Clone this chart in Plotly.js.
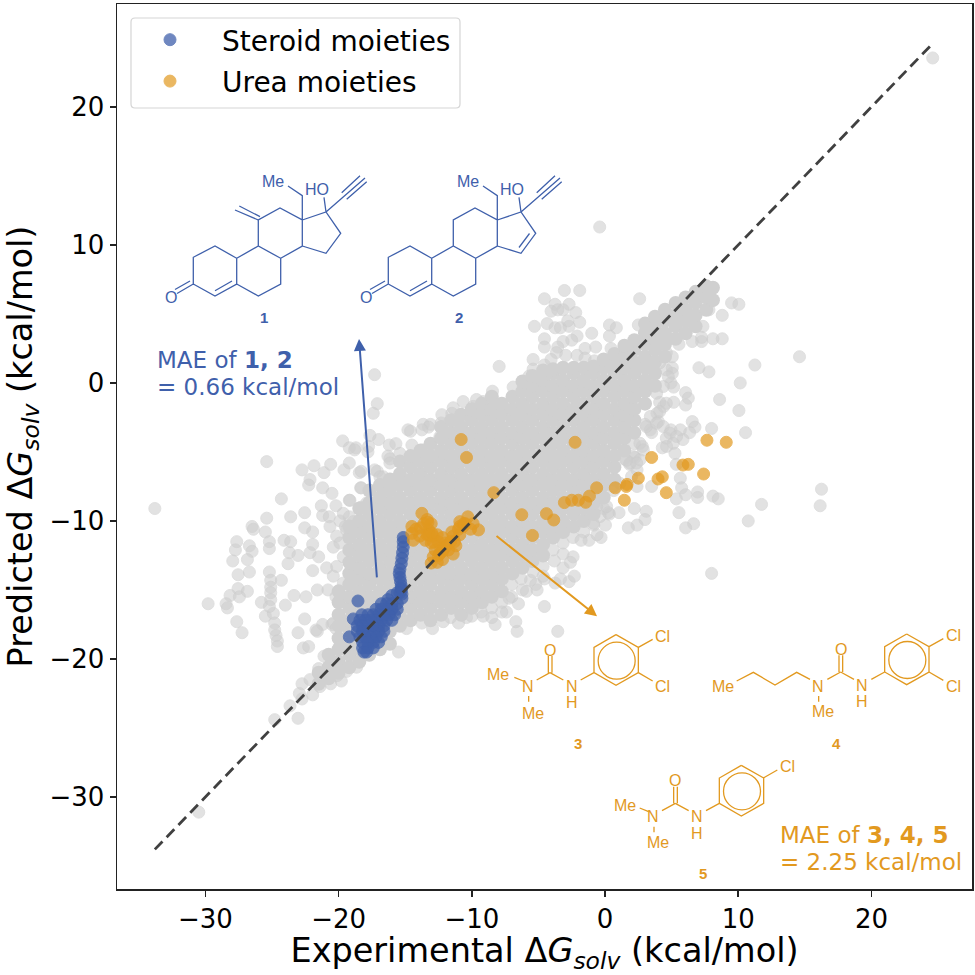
<!DOCTYPE html>
<html>
<head>
<meta charset="utf-8">
<script src="https://cdn.plot.ly/plotly-3.0.1.min.js"></script>
<style>html,body{margin:0;padding:0;background:#fff}</style>
</head>
<body>
<div id="chart" style="width:975px;height:975px"></div>
<script>
var xTicks = [-30, -20, -10, 0, 10, 20];
var yTicks = [-30, -20, -10, 0, 10, 20];
var identityLine = [-33.8, 24.6];

// dense body of the cloud, one column per entry: [x, y, y, y...]
var bodyLeft = [
  [-21.5,-21.8,-21.0],
  [-20.75,-21.4,-20.6,-19.7],
  [-20,-21.0,-20.2,-19.3,-18.5,-17.6,-16.8,-15.9,-15.1],
  [-19.2,-20.6,-19.7,-18.9,-18.0,-17.2,-16.3,-15.5,-14.6,-13.8,-13.0,-12.1,-11.2,-10.4],
  [-18.45,-20.2,-19.3,-18.5,-17.6,-16.8,-15.9,-15.1,-14.2,-13.4,-12.5,-11.7,-10.8,-10.0,-9.1],
  [-17.7,-19.7,-18.9,-18.0,-17.2,-16.3,-15.5,-14.6,-13.8,-12.9,-12.1,-11.2,-10.4,-9.5,-8.7,-7.8],
  [-16.9,-19.3,-18.5,-17.6,-16.8,-15.9,-15.1,-14.2,-13.4,-12.5,-11.7,-10.8,-10.0,-9.1,-8.3,-7.4],
  [-16.15,-18.9,-18.0,-17.2,-16.3,-15.5,-14.6,-13.8,-12.9,-12.1,-11.2,-10.4,-9.5,-8.7,-7.8,-7.0],
  [-15.4,-17.6,-16.8,-15.9,-15.1,-14.2,-13.4,-12.5,-11.7,-10.8,-10.0,-9.1,-8.3,-7.4,-6.6,-5.7],
  [-14.6,-17.2,-16.3,-15.5,-14.6,-13.8,-12.9,-12.1,-11.2,-10.4,-9.5,-8.7,-7.8,-7.0,-6.1,-5.3],
  [-13.85,-16.8,-15.9,-15.1,-14.2,-13.4,-12.5,-11.7,-10.8,-10.0,-9.1,-8.3,-7.4,-6.6,-5.7,-4.9],
  [-13.1,-17.2,-16.3,-15.5,-14.6,-13.8,-12.9,-12.1,-11.2,-10.4,-9.5,-8.7,-7.8,-7.0,-6.1,-5.3,-4.4]
];
var bodyMid = [
  [-12.3,-16.8,-15.9,-15.1,-14.2,-13.4,-12.5,-11.7,-10.8,-10.0,-9.1,-8.3,-7.4,-6.6,-5.7,-4.9,-4.0,-3.2],
  [-11.55,-16.3,-15.5,-14.6,-13.8,-12.9,-12.1,-11.2,-10.4,-9.5,-8.7,-7.8,-7.0,-6.1,-5.3,-4.4,-3.6,-2.7],
  [-10.8,-16.8,-15.9,-15.1,-14.2,-13.4,-12.5,-11.7,-10.8,-10.0,-9.1,-8.3,-7.4,-6.6,-5.7,-4.9,-4.0,-3.2,-2.3],
  [-10,-16.3,-15.5,-14.6,-13.8,-12.9,-12.1,-11.2,-10.4,-9.5,-8.7,-7.8,-7.0,-6.1,-5.3,-4.4,-3.6,-2.7,-1.9],
  [-9.25,-15.9,-15.1,-14.2,-13.4,-12.5,-11.7,-10.8,-10.0,-9.1,-8.3,-7.4,-6.6,-5.7,-4.9,-4.0,-3.2,-2.3,-1.5],
  [-8.5,-15.5,-14.6,-13.8,-12.9,-12.1,-11.2,-10.4,-9.5,-8.7,-7.8,-7.0,-6.1,-5.3,-4.4,-3.6,-2.7,-1.9,-1.0],
  [-7.75,-15.1,-14.2,-13.4,-12.5,-11.7,-10.8,-10.0,-9.1,-8.3,-7.4,-6.6,-5.7,-4.9,-4.0,-3.2,-2.3,-1.5],
  [-6.95,-13.8,-12.9,-12.1,-11.2,-10.4,-9.5,-8.7,-7.8,-7.0,-6.1,-5.3,-4.4,-3.6,-2.7,-1.9,-1.0],
  [-6.2,-13.4,-12.5,-11.7,-10.8,-10.0,-9.1,-8.3,-7.4,-6.6,-5.7,-4.9,-4.0,-3.2,-2.3,-1.5,-0.6,0.1],
  [-5.45,-12.9,-12.1,-11.2,-10.4,-9.5,-8.7,-7.8,-7.0,-6.1,-5.3,-4.4,-3.6,-2.7,-1.9,-1.0,-0.2,0.5],
  [-4.65,-12.5,-11.7,-10.8,-10.0,-9.1,-8.3,-7.4,-6.6,-5.7,-4.9,-4.0,-3.2,-2.3,-1.5,-0.6,0.2,0.9]
];
var bodyRight = [
  [-3.9,-11.2,-10.4,-9.5,-8.7,-7.8,-7.0,-6.1,-5.3,-4.4,-3.6,-2.7,-1.9,-1.0,-0.2,0.7,1.0],
  [-3.15,-10.8,-10.0,-9.1,-8.3,-7.4,-6.6,-5.7,-4.9,-4.0,-3.2,-2.3,-1.5,-0.6,0.2,1.1],
  [-2.35,-10.4,-9.5,-8.7,-7.8,-7.0,-6.1,-5.3,-4.4,-3.6,-2.7,-1.9,-1.0,-0.2,0.7,1.1],
  [-1.6,-10.0,-9.1,-8.3,-7.4,-6.6,-5.7,-4.9,-4.0,-3.2,-2.3,-1.5,-0.6,0.2,1.1],
  [-0.85,-9.5,-8.7,-7.8,-7.0,-6.1,-5.3,-4.4,-3.6,-2.7,-1.9,-1.0,-0.2,0.7,1.2],
  [-0.1,-8.3,-7.4,-6.6,-5.7,-4.9,-4.0,-3.2,-2.3,-1.5,-0.6,0.2,1.1,1.7],
  [0.7,-7.0,-6.1,-5.3,-4.4,-3.6,-2.7,-1.9,-1.0,-0.2,0.7,1.5,2.1],
  [1.45,-4.9,-4.0,-3.2,-2.3,-1.5,-0.6,0.2,1.1,1.9,2.7],
  [2.2,-3.6,-2.7,-1.9,-1.0,-0.2,0.7,1.5,2.4,3.1],
  [3,-1.5,-0.6,0.2,1.1,1.9,2.8,3.6,4.3],
  [3.75,-0.2,0.7,1.5,2.4,3.2,4.1,4.8],
  [4.5,1.9,2.8,3.6,4.5,5.3],
  [5.3,3.2,4.1,4.9,5.8],
  [6.05,3.6,4.5,5.3,6.2],
  [6.8,4.1,4.9,5.8,6.6],
  [7.6,5.3,6.2,7.0],
  [8.1,6.0,6.9]
];

// loose points around the body, [x, y]
var grayLeft = [[-17.3,0.6],[-17.1,-1.5],[-17.4,-2.2],[-14.8,-3.4],[-14.6,-3.5],[-19.7,-4.2],[-19.2,-4.7],[-18.7,-4.7],[-17,-4.1],[-17.75,-4.6],[-16.2,-4.5],[-15.7,-4.4],[-14.5,-4.5],[-25.4,-5.7],[-22.75,-6.3],[-21.85,-6],[-21.1,-6.5],[-20.6,-5.9],[-19.2,-5.8],[-19.6,-6.3],[-18.45,-6.5],[-17.1,-6.4],[-16.3,-5.3],[-15.4,-5.1],[-22.15,-7],[-22.25,-7.4],[-21.2,-7.6],[-20.5,-8],[-24.3,-8.4],[-33.8,-9.1],[-21.3,-8.9],[-20.2,-8.9],[-19.2,-8.5],[-18.35,-7.6],[-23.6,-9.7],[-22.55,-9.4],[-25.4,-9.8],[-26.5,-10.4],[-26.4,-10.6],[-25.5,-10.8],[-22.55,-10.5],[-21.95,-10.8],[-21.2,-9.6],[-20.7,-9.7],[-19.9,-10],[-19.2,-9.7],[-25.2,-11.5],[-27.65,-11.5],[-27.75,-12.1],[-26.7,-11.8],[-26.5,-12.2],[-24.1,-11.4],[-23.6,-11.5],[-21.95,-11.7],[-25.2,-12],[-23.7,-12.3],[-23.05,-12.5],[-22.15,-12.3],[-21.5,-12.6],[-27.95,-12.9],[-26.85,-12.8],[-23.8,-13.1],[-20.9,-13.4],[-21.95,-13.6],[-26.7,-13.7],[-27.55,-13.9],[-25.2,-13.7],[-25.1,-14.3],[-24.3,-14.3],[-27.55,-14.9],[-26.85,-15.1],[-28.15,-15.4],[-27.45,-15.5],[-29.8,-16],[-28.45,-16],[-28.35,-16.3],[-25.1,-14.8],[-25.1,-15.2],[-25.8,-15.9],[-24,-16.1],[-23.35,-15.4],[-22.45,-15.5],[-21.6,-15],[-20.8,-15],[-20.2,-15.5],[-27.65,-17.3],[-27.25,-18.1],[-25.5,-16.9],[-24.9,-16.7],[-24.8,-17.4],[-24.7,-18.3],[-22.55,-17.1],[-23.05,-18.1],[-21.2,-17.5],[-21.6,-18],[-20.4,-17.4],[-25.1,-15.7],[-25.2,-16.2],[-24.8,-17.9],[-24.6,-18.7],[-24.6,-19.1],[-22.65,-19.2],[-22.25,-19.1],[-21.7,-17.9],[-20.5,-17.5],[-20.2,-17.8]];
var grayFill = [[-11.5,-2.2],[-13.65,-3],[-13.1,-3],[-12.3,-2.9],[-10.8,-2.6],[-10.65,-1.35],[-9.9,-1.7],[-9.15,-1.35],[-17.65,-3.8],[-18.8,-4.85],[-17.8,-5],[-18.3,-6.4],[-18.3,-7.6],[-19.15,-8.5],[-13.15,-4.6],[-16.15,-5.5],[-17.3,-6.3],[-16.65,-6.8],[-16.15,-5.8],[-16.9,-6.8],[-17.15,-7.75],[-15.9,-7.3],[-15.15,-5.8],[-14.4,-5.6],[-13.65,-4.85],[-12.4,-3.9],[-11.65,-3.65],[-11.15,-2.9],[-9.9,-2.2],[-9.15,-1.95],[-8.15,-1.5],[-16.8,-8.2],[-16.5,-7.75],[-17.9,-8.7],[-18.3,-9],[-19.65,-9.45],[-18.9,-10.05],[-19.5,-10.4],[-20.65,-10.4],[-20.15,-11.1],[-20.4,-11.9],[-19.65,-12.6],[-20.15,-13.3],[-20.4,-14],[-19.65,-14.5],[-19.15,-13.8],[-19.9,-11.6],[-19.4,-10.65]];
var grayDiagonal = [[-30.5,-31.1],[-24.8,-24.4],[-23.05,-24.3],[-23.65,-23.4],[-22.75,-22.9],[-22.95,-22.5],[-22.75,-21.8],[-22.15,-21.5],[-21.95,-22.6],[-21.5,-20.7],[-21.1,-19.8],[-21.4,-22],[-20.6,-21.8],[-19.8,-21.6],[-20.1,-21.2],[-19.4,-20.9],[-18.65,-20.6],[-15.5,-19.5],[24.6,23.55]];
var grayBelow = [[-14.9,-17.8],[-13.75,-17.4],[-12.95,-17.8],[-12.15,-17.3],[-11,-17.4],[-10.4,-17],[-9.15,-16.9],[-8.25,-17.5],[-7.4,-16.6],[-6.6,-18],[-6.7,-17.3],[-6.5,-16],[-7,-15.5],[-5.6,-14.3],[-3.55,-18],[-4.55,-16.2],[-3.15,-13.4],[-2.4,-12.6],[-4.55,-14.2],[-3.75,-14.5],[-3.35,-14.2],[-2.7,-14.4],[-2.3,-14],[-1.2,-11.4],[-0.3,-11.2],[0.03,-10.3],[0.33,-9.5],[-11.6,-17],[-10,-16.9],[-9.3,-16.6],[-8.5,-16.3],[-8.5,-17],[-7.75,-15.9],[-7.75,-16.6],[-7,-14.6],[-6.3,-14.2],[-6.2,-15],[-5.4,-13.7],[-5.2,-14.6],[-4.65,-13.3],[-4.65,-14],[-3.9,-12.1],[-3.8,-12.9],[-3.15,-11.6],[-2.4,-11.2],[-1.6,-10.8],[-1.8,-11.4],[-0.85,-10.3],[-0.1,-9.1],[0.65,-7.8],[1.45,-5.5],[2.2,-4.4],[-0.6,-11],[-5.9,-15.1],[-7.2,-15.6],[-5.1,-15],[-3.15,-12.4],[-2.6,-13]];
var grayUpper = [[2.6,6.1],[-3.05,6.7],[-1.9,6.7],[-4.55,6.1],[-3.75,5.7],[-2.7,5.7],[-4.05,5.2],[-3.15,5.3],[-2.2,5.1],[-3.55,5.3],[-5.3,4.1],[-4.35,4.3],[-3.75,4],[-3.35,4],[-2.7,4.1],[-1.9,4.4],[-2.8,4.5],[-1,3.6],[0.33,4.2],[0.85,4],[2.5,4.2],[0.33,3.4],[-4.55,3.2],[-2.1,3.4],[-2.5,3.1],[-3.15,3],[-4.55,2.6],[-3.55,2.6],[-3.65,2.2],[-1.5,2.5],[-0.7,2.6],[0.45,2.5],[1.45,2.6],[-2.95,2],[-2.1,2],[-5.4,1.7],[-4.55,1.3],[-7.95,1.2],[-5.7,0.5],[-6.9,-0.3],[-0.8,1.6],[0.65,2],[-5.4,1],[-4.05,1.7],[-1.5,1.8],[-8.45,-0.6],[-9.65,-1.2],[-11.4,-1.8],[-12.25,-2.3],[-13.25,-3.2],[-13.75,-3.4]];
var grayRight = [[14.6,1.9],[11.25,1.3],[7.05,1.1],[7.8,0.8],[10.15,0],[8.6,-1.2],[10.05,-2],[10.55,-3.6],[8,-3.3],[6.05,-0.7],[6.25,-1.1],[6.05,-1.6],[5.15,-1.4],[4.4,-1.7],[6.55,-2.8],[6.75,-3.2],[6.35,-3.6],[5.65,-3.4],[5.85,-4.1],[5.25,-5.1],[4.3,-4.7],[5.35,-5.9],[5.65,-6.9],[5.75,-7.6],[6.05,-8.1],[6.95,-7.9],[6.95,-8.3],[8.1,-8.2],[8.5,-8.4],[5.35,-8.4],[3.5,-7.5],[2.4,-6.3],[2.4,-7.5],[11.75,-8.8],[5.55,-9.4],[10.75,-10],[6.65,-10.2],[6.05,-10.5],[2.2,-9.1],[3.1,-9.3],[3,-9.9],[2.4,-10.3],[1.75,-10.5],[1.05,-9.4],[0.25,-9.4],[16.25,-7.7],[16.15,-8.9],[8,-13.8],[9.5,5.8],[10.05,5.7],[8.8,4.9],[7.8,5.3],[8.8,3.2],[8.1,3.2],[7.25,3],[6.55,3],[7.35,4.1],[7.25,3.3],[5.55,2.8],[5.05,1.9],[4.6,2.2],[5.05,1.1],[5.05,0.7],[4.95,0],[5.15,-0.3],[3.7,-0.1],[4.1,-1.4],[3.9,-2.2],[4,-2.8],[4.95,-3.4],[4.6,-4],[3.4,-3.4],[3.5,-3.6],[2.8,-4.6],[3,-3],[2.25,-5.4],[1.85,-5.9],[-5.5,-0.1],[-0.4,11.3]];
var grayEast = [[3.87,-0.74],[4.37,-0.26],[4.6,0.95],[4.1,1.45],[4.75,0.45],[4.6,-1.47],[4.1,-2.07],[3.4,-2.43],[3.1,-3.16],[3.87,-2.92],[4.37,-3.16],[4.87,-3.64],[5.37,-3.88],[5.12,-4.37],[4.62,-4.6],[2.62,-4.37],[2.87,-4.85],[2.12,-5.33],[2.62,-5.57],[1.87,-5.8],[2.37,-5.8],[1.99,-6.78],[1.12,-7.27],[0.6,-7.5],[1.6,-5.6],[-0.38,-8.23],[0.12,-8.95],[-0.63,-8.95],[-0.38,-9.68],[-0.88,-10.16]];

var steroidX = [-15.15,-15.15,-15.15,-15.2,-15.25,-15.3,-15.4,-15.45,-15.4,-15.35,-15.3,-15.3,-15.25,-15.25,-15.3,-15.4,-15.6,-16,-16.3,-18.55,-18.9,-18.25,-19.2,-15.6,-16,-16.4,-16.8,-15.6,-16,-16.4,-16.8,-17.2,-15.8,-16.2,-16.6,-17,-17.4,-17.8,-16,-16.4,-16.8,-17.2,-17.6,-18,-18.4,-16.6,-17,-17.4,-17.8,-18.2,-18.6,-16.6,-17,-17.4,-17.8,-18.2,-18.6,-16.8,-17.2,-17.6,-18,-18.4,-17,-17.4,-17.8,-18.2,-17.4,-17.8,-18.2,-17.9,-18.1];
var steroidY = [-11.2,-11.5,-11.9,-12.3,-12.7,-13.1,-13.5,-13.8,-14.1,-14.4,-14.7,-15,-15.3,-15.6,-14.9,-15.2,-15.2,-15.4,-15.7,-15.8,-17.1,-16.8,-18.4,-16,-16,-16,-16,-16.4,-16.4,-16.4,-16.4,-16.4,-16.8,-16.8,-16.8,-16.8,-16.8,-16.8,-17.2,-17.2,-17.2,-17.2,-17.2,-17.2,-17.2,-17.6,-17.6,-17.6,-17.6,-17.6,-17.6,-18,-18,-18,-18,-18,-18,-18.4,-18.4,-18.4,-18.4,-18.4,-18.8,-18.8,-18.8,-18.8,-19.2,-19.2,-19.2,-19.5,-19.5];
var ureaX = [-14.5,-14.5,-14.4,-13.75,-13.35,-13.05,-13.25,-12.9,-12.55,-12.75,-12.4,-13.05,-12.2,-11.75,-11.4,-11.5,-10.9,-10.65,-10.3,-10.9,-9.9,-9.5,-13.85,-13.35,-12.35,-12,-13.05,-11.3,-10.5,-12.2,-11,-10.8,-10.4,-8.35,-6.25,-5.45,-2.25,7.65,9.1,3.5,5.85,6.25,7.4,2.5,4.3,3.98,1.65,1.6,0.77,-0.63,4.6,-1.17,1.45,-3.05,-2.5,-2,-1.45,-4.4,-3.85,-14.2,-13.9,-13.6,-13.5,-13.2,-12.9,-13,-12.6,-12.5,-12.9,-12.1,-12.2,-11.9,-11.6,-11.2,-10.9,-10.6,-10.1,-11.4,-12.6,-13.3];
var ureaY = [-10.4,-10.9,-11.4,-9.45,-9.9,-10.2,-10.65,-11.1,-11.5,-12.1,-12.35,-13.05,-12.8,-12.1,-11.1,-10.8,-11,-10.4,-9.7,-10.05,-10.2,-10.65,-10.5,-11,-11.9,-11.6,-11.6,-11.5,-10.2,-12.2,-10.6,-4.1,-5.4,-7.95,-9.55,-11.05,-4.3,-4.15,-4.3,-5.4,-5.95,-5.9,-6.6,-6.9,-6.8,-6.96,-7.35,-7.5,-7.6,-7.6,-7.95,-8.2,-8.5,-8.67,-8.5,-8.5,-8.65,-9.47,-9.93,-10.6,-11.1,-10.2,-11.4,-11,-11.5,-10.9,-11,-12.5,-12.6,-12,-11.2,-11.8,-11.5,-11.8,-10.4,-10.2,-10.6,-12.4,-13,-10.1];

var BLUE = '#3f60ab', ORANGE = '#e2991f';
var W = 855, H = 885, L = 117, T = 4;
function px(v) { return (v - L) / W; }
function py(v) { return 1 - (v - T) / H; }

function flatColumns(cols) {
  var xs = [], ys = [];
  cols.forEach(function(c) {
    for (var i = 1; i < c.length; i++) { xs.push(c[0]); ys.push(c[i]); }
  });
  return {x: xs, y: ys};
}
var body = flatColumns(bodyLeft.concat(bodyMid, bodyRight));
var loose = grayLeft.concat(grayFill, grayDiagonal, grayBelow, grayUpper, grayRight, grayEast);

var traces = [
  {x: loose.map(p => p[0]), y: loose.map(p => p[1]), mode: 'markers', type: 'scatter', showlegend: false,
   marker: {size: 12, color: '#cfcfcf', opacity: 0.6, line: {width: 1, color: '#cccccc'}}},
  {x: body.x, y: body.y, mode: 'markers', type: 'scatter', showlegend: false,
   marker: {size: 14, color: '#d0d0d0'}},
  {x: steroidX, y: steroidY, mode: 'markers', type: 'scatter', name: 'Steroid moieties', legendgroup: 'a',
   marker: {size: 12, color: BLUE, opacity: 0.75, line: {width: 1, color: BLUE}}},
  {x: ureaX, y: ureaY, mode: 'markers', type: 'scatter', name: 'Urea moieties', legendgroup: 'b',
   marker: {size: 12, color: ORANGE, opacity: 0.7, line: {width: 1, color: ORANGE}}},
  {x: identityLine, y: identityLine, mode: 'lines', type: 'scatter', showlegend: false,
   line: {color: '#404040', width: 2.8, dash: '11px,6px'}}
];

// structure drawings, in picture pixels
var steroidCore = [
  [[193.3,284],[193.3,257.3],[215,246],[236.7,258.3],[236.7,284],[215,296],[193.3,284]],
  [[236.7,258.3],[258.3,246],[280.7,258.3],[280.7,284],[258.3,296],[236.7,284]],
  [[258.3,246],[258.3,220],[280,208],[302.3,220],[302.3,246],[280.7,258.3]],
  [[302.3,220],[326,212],[340.7,233.3],[326,253.3],[302.3,246]],
  [[215,290.7],[232,281]],
  [[193.3,284],[177,293.5]], [[190,281],[175,289.5]],
  [[302.3,220],[302.3,195.7],[288,186]],
  [[326,212],[324,197.3]],
  [[326,212],[365,178]], [[341.7,192.7],[360,175.7]], [[346.7,199.3],[366.7,181.7]]
];
var methylene = [[[258.3,220],[235,210]], [[260,216.7],[239.3,206]]];
var ringDouble = [[[529.5,233.5],[519,247.5]]];
var ureaRing = [
  [[438,104],[505,142],[505,218],[438,256],[372,218],[372,142],[438,104]],
  [[372,218],[332,240]], [[280,240],[240,218]], [[235,218],[235,168]], [[246,218],[246,168]], [[240,218],[200,240]]
];
var ringCenter = [440, 182];
var clPair = [[[505,142],[548,118]], [[505,218],[548,243]]];
var dimethyl = [[[160,243],[133,232]], [[176,288],[176,305]]];
var butyl = [[[1020,238],[980,217],[915,255],[850,217],[800,243]], [[1046,288],[1046,305]]];
var clSingle = [[[880,534],[922,510]]];

function toPath(segs, dx, dy, s) {
  return segs.map(function(seg) {
    return seg.map(function(p, i) {
      return (i ? 'L' : 'M') + px(p[0] * s + dx).toFixed(5) + ',' + py(p[1] * s + dy).toFixed(5);
    }).join(' ');
  }).join(' ');
}
function bond(d, color) {
  return {type: 'path', xref: 'paper', yref: 'paper', path: d, line: {color: color, width: 1.3}, layer: 'above'};
}
function ureaShift(dx, dy) {
  return {x: 470 + dx / 3, y: 600 + dy / 3};
}
var u3 = ureaShift(0, 0), u4 = ureaShift(872, -2), u5 = ureaShift(376, 392);
function ring(o) {
  var cx = ringCenter[0] / 3 + o.x, cy = ringCenter[1] / 3 + o.y, r = 18.5;
  return {type: 'circle', xref: 'paper', yref: 'paper', x0: px(cx - r), x1: px(cx + r), y0: py(cy + r), y1: py(cy - r),
          line: {color: ORANGE, width: 1.3}, layer: 'above'};
}
var legendBox = {type: 'path', xref: 'paper', yref: 'paper', layer: 'above', fillcolor: 'rgba(255,255,255,0.9)',
  line: {color: '#d5d5d5', width: 1.2},
  path: 'M' + px(135) + ',' + py(18) + ' L' + px(456) + ',' + py(18) + ' Q' + px(460) + ',' + py(18) + ' ' + px(460) + ',' + py(22) +
        ' L' + px(460) + ',' + py(104) + ' Q' + px(460) + ',' + py(108) + ' ' + px(456) + ',' + py(108) +
        ' L' + px(135) + ',' + py(108) + ' Q' + px(131) + ',' + py(108) + ' ' + px(131) + ',' + py(104) +
        ' L' + px(131) + ',' + py(22) + ' Q' + px(131) + ',' + py(18) + ' ' + px(135) + ',' + py(18) + ' Z'};

var shapes = [
  legendBox,
  bond(toPath(steroidCore, 0, 0, 1), BLUE),
  bond(toPath(methylene, 0, 0, 1), BLUE),
  bond(toPath(steroidCore, 195, 0, 1), BLUE),
  bond(toPath(ringDouble, 0, 0, 1), BLUE),
  bond(toPath(ureaRing, u3.x, u3.y, 1 / 3), ORANGE), bond(toPath(clPair, u3.x, u3.y, 1 / 3), ORANGE),
  bond(toPath(dimethyl, u3.x, u3.y, 1 / 3), ORANGE), ring(u3),
  bond(toPath(ureaRing, u4.x, u4.y, 1 / 3), ORANGE), bond(toPath(clPair, u4.x, u4.y, 1 / 3), ORANGE),
  bond(toPath(butyl, 470, 600, 1 / 3), ORANGE), ring(u4),
  bond(toPath(ureaRing, u5.x, u5.y, 1 / 3), ORANGE), bond(toPath(clSingle, 470, 600, 1 / 3), ORANGE),
  bond(toPath(dimethyl, u5.x, u5.y, 1 / 3), ORANGE), ring(u5)
];

function atom(text, x, y, color) {
  return {text: text, x: px(x), y: py(y), xref: 'paper', yref: 'paper', xanchor: 'center', yanchor: 'middle', showarrow: false,
          font: {family: '"Liberation Sans", Arial, sans-serif', size: 16, color: color}};
}
function label(text, x, y, color) {
  return {text: '<b>' + text + '</b>', x: px(x), y: py(y), xref: 'paper', yref: 'paper', xanchor: 'center', yanchor: 'middle', showarrow: false,
          font: {family: '"Liberation Sans", Arial, sans-serif', size: 15, color: color}};
}
function mae(text, x, y, color) {
  return {text: text, x: px(x), y: py(y), xref: 'paper', yref: 'paper', xanchor: 'left', yanchor: 'middle', showarrow: false,
          font: {family: '"DejaVu Sans", sans-serif', size: 23, color: color}};
}
function pointer(x0, y0, x1, y1, color) {
  return {x: x1, y: y1, ax: x0, ay: y0, xref: 'x', yref: 'y', axref: 'x', ayref: 'y', text: '', showarrow: true,
          arrowhead: 2, arrowsize: 1.2, arrowwidth: 2, arrowcolor: color, standoff: 0};
}
function ureaAtoms(o, second) {
  var out = [atom('N', o.x + 305 / 3, o.y + 258 / 3, ORANGE), atom('H', o.x + 305 / 3, o.y + 307 / 3, ORANGE),
             atom('O', o.x + 240 / 3, o.y + 150 / 3, ORANGE), atom('Cl', o.x + 577 / 3, o.y + 108 / 3, ORANGE)];
  if (second) out.push(atom('Cl', o.x + 577 / 3, o.y + 260 / 3, ORANGE));
  return out;
}
function z2(x, y, text) { return atom(text, 470 + x / 3, 600 + y / 3, ORANGE); }

var annotations = [
  atom('Me', 273.3, 181.7, BLUE), atom('HO', 316.7, 189.3, BLUE), atom('O', 170.7, 297.3, BLUE),
  atom('Me', 468.3, 181.7, BLUE), atom('HO', 511.7, 189.3, BLUE), atom('O', 365.7, 297.3, BLUE),
  label('1', 264.3, 317.7, BLUE), label('2', 459.3, 317.7, BLUE),
  mae('MAE of <b>1, 2</b>', 155, 360, BLUE), mae('= 0.66 kcal/mol', 155, 387, BLUE),
  pointer(-17.12, -14.2, -18.47, 3.19, BLUE),
  pointer(-8.26, -11, -0.6, -16.9, ORANGE),
  z2(85, 224, 'Me'), z2(175, 258, 'N'), z2(188, 340, 'Me'),
  z2(760, 260, 'Me'), z2(1045, 258, 'N'), z2(1060, 335, 'Me'),
  z2(465, 615, 'Me'), z2(550, 650, 'N'), z2(565, 727, 'Me'),
  label('3', 578, 743, ORANGE), label('4', 836, 743, ORANGE), label('5', 703, 873, ORANGE),
  mae('MAE of <b>3, 4, 5</b>', 778, 835, ORANGE), mae('= 2.25 kcal/mol', 778, 862, ORANGE)
].concat(ureaAtoms(u3, true), ureaAtoms(u4, true), ureaAtoms(u5, false));

var axisBase = {
  showgrid: false, zeroline: false, showline: true, mirror: true, linecolor: '#222', linewidth: 1.5,
  ticks: 'outside', ticklen: 6, tickwidth: 1.5, tickcolor: '#222', tickfont: {size: 26}, automargin: false
};
var layout = {
  width: 975, height: 975,
  margin: {l: L, r: 3, t: T, b: 86, pad: 0},
  paper_bgcolor: '#fff', plot_bgcolor: '#fff',
  font: {family: '"DejaVu Sans", sans-serif', color: '#000'},
  xaxis: Object.assign({}, axisBase, {
    range: [-36.64, 27.55], tickvals: xTicks,
    title: {text: 'Experimental Δ<i>G</i><sub><i>solv</i></sub> (kcal/mol)', font: {size: 33.5}, standoff: 6}
  }),
  yaxis: Object.assign({}, axisBase, {
    range: [-36.67, 27.46], tickvals: yTicks,
    title: {text: 'Predicted Δ<i>G</i><sub><i>solv</i></sub> (kcal/mol)', font: {size: 33.5}, standoff: 6}
  }),
  legend: {x: px(118), y: py(15), xanchor: 'left', yanchor: 'top', bgcolor: 'rgba(0,0,0,0)', borderwidth: 0,
           font: {size: 28}, itemwidth: 94, tracegroupgap: 2},
  shapes: shapes,
  annotations: annotations
};
Plotly.newPlot('chart', traces, layout, {staticPlot: true});
</script>
</body>
</html>
